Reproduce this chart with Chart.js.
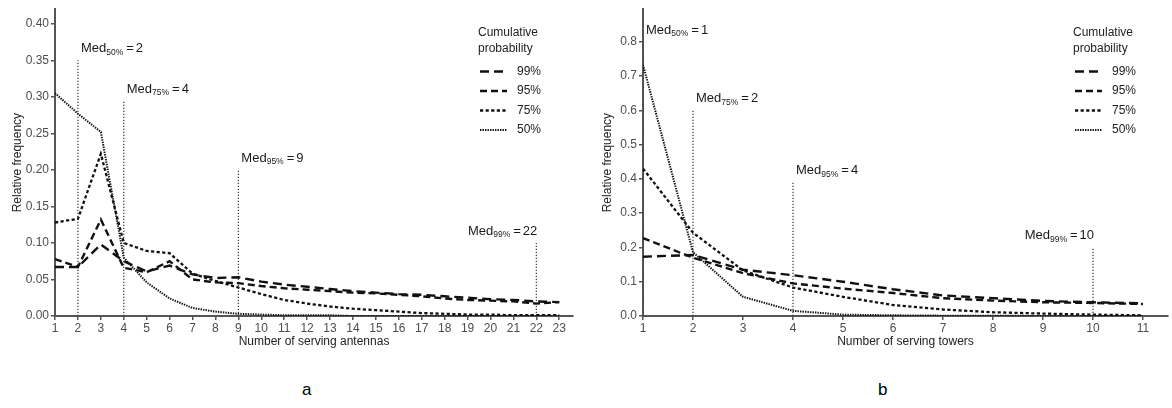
<!DOCTYPE html>
<html>
<head>
<meta charset="utf-8">
<script src="https://cdn.jsdelivr.net/npm/chart.js@4.4.1/dist/chart.umd.min.js"></script>
<style>
  body { margin: 0; background: #fff; width: 1172px; height: 408px; position: relative; overflow: hidden; font-family: "Liberation Sans", Arial, sans-serif; }
  canvas { position: absolute; top: 0; }
  #chart-a { left: 0; width: 590px; height: 360px; }
  #chart-b { left: 590px; width: 582px; height: 360px; }
  .panel { position: absolute; top: 380px; font-size: 17px; color: #000; }
</style>
</head>
<body>
<canvas id="chart-a" width="590" height="360"></canvas>
<canvas id="chart-b" width="582" height="360"></canvas>
<div class="panel" style="left:302px">a</div>
<div class="panel" style="left:878px">b</div>
<script>
// panel a: antennas
var antennas = [1, 2, 3, 4, 5, 6, 7, 8, 9, 10, 11, 12, 13, 14, 15, 16, 17, 18, 19, 20, 21, 22, 23];
var antennaYTicks = [0, 0.05, 0.10, 0.15, 0.20, 0.25, 0.30, 0.35, 0.40];
var antenna99 = [0.067, 0.067, 0.098, 0.075, 0.061, 0.069, 0.057, 0.052, 0.053, 0.047, 0.043, 0.040, 0.037, 0.034, 0.032, 0.030, 0.029, 0.027, 0.025, 0.023, 0.022, 0.020, 0.019];
var antenna95 = [0.078, 0.067, 0.132, 0.066, 0.060, 0.075, 0.050, 0.046, 0.045, 0.041, 0.038, 0.036, 0.034, 0.032, 0.031, 0.029, 0.027, 0.024, 0.022, 0.021, 0.020, 0.017, 0.019];
var antenna75 = [0.128, 0.133, 0.222, 0.100, 0.089, 0.086, 0.058, 0.048, 0.039, 0.030, 0.022, 0.017, 0.013, 0.010, 0.008, 0.006, 0.004, 0.003, 0.002, 0.002, 0.001, 0.001, 0.001];
var antenna50 = [0.305, 0.277, 0.252, 0.080, 0.046, 0.024, 0.011, 0.006, 0.003, 0.002, 0.001, 0.001, 0.001, 0, 0, 0, 0, 0, 0, 0, 0, 0, 0];
var antennaMedians = [2, 4, 9, 22];
var antennaMedianTops = [0.35, 0.295, 0.2, 0.1];

// panel b: towers
var towers = [1, 2, 3, 4, 5, 6, 7, 8, 9, 10, 11];
var towerYTicks = [0, 0.1, 0.2, 0.3, 0.4, 0.5, 0.6, 0.7, 0.8];
var tower99 = [0.173, 0.178, 0.135, 0.119, 0.100, 0.078, 0.060, 0.052, 0.044, 0.040, 0.037];
var tower95 = [0.227, 0.170, 0.125, 0.095, 0.080, 0.067, 0.052, 0.045, 0.040, 0.038, 0.035];
var tower75 = [0.430, 0.243, 0.133, 0.083, 0.056, 0.032, 0.019, 0.011, 0.007, 0.004, 0.002];
var tower50 = [0.733, 0.186, 0.056, 0.015, 0.004, 0.002, 0.001, 0.001, 0, 0, 0];
var towerMedians = [1, 2, 4, 10];
var towerMedianTops = [0.8, 0.6, 0.39, 0.2];

var levels = ["99%", "95%", "75%", "50%"];
var medianLevels = ["50%", "75%", "95%", "99%"];

var lineStyles = {
    "99%": { dash: [9, 5], width: 2.4 },
    "95%": { dash: [7, 4], width: 2.4 },
    "75%": { dash: [3.2, 2.4], width: 2.3 },
    "50%": { dash: [1.4, 1.1], width: 2 }
};

Chart.defaults.font.family = "'Liberation Sans', Arial, sans-serif";
Chart.defaults.animation = false;

function toPoints (xs, ys) {
    return xs.map(function (x, i) { return { x: x, y: ys[i] }; });
}

// legend in the upper right, drawn from the dataset styles
var cumLegend = {
    id: "cumLegend",
    afterDraw: function (chart) {
        let ctx = chart.ctx;
        let left = chart.chartArea.right - 95;
        ctx.save();
        ctx.fillStyle = "#222";
        ctx.font = "12px 'Liberation Sans', Arial, sans-serif";
        ctx.textBaseline = "middle";
        ctx.textAlign = "left";
        ctx.fillText("Cumulative", left, 33);
        ctx.fillText("probability", left, 49);
        let y = 71.5;
        chart.data.datasets.forEach(function (ds) {
            if (!ds.legendText) return;
            ctx.strokeStyle = ds.borderColor;
            ctx.lineWidth = ds.borderWidth;
            ctx.setLineDash(ds.borderDash);
            ctx.beginPath();
            ctx.moveTo(left + 2, y);
            ctx.lineTo(left + 29, y);
            ctx.stroke();
            ctx.fillText(ds.legendText, left + 39, y);
            y += 19.5;
        });
        ctx.restore();
    }
};

// "Med_xx% = n" captions above the median markers
var medianLabels = {
    id: "medianLabels",
    afterDatasetsDraw: function (chart) {
        let ctx = chart.ctx;
        let xs = chart.scales.x;
        let ys = chart.scales.y;
        ctx.save();
        ctx.fillStyle = "#1a1a1a";
        ctx.textBaseline = "alphabetic";
        ctx.textAlign = "left";
        chart.data.datasets.forEach(function (ds) {
            if (!ds.medLabel) return;
            let top = ds.data[1];
            let px = xs.getPixelForValue(top.x);
            let base = ys.getPixelForValue(top.y) - 8;
            let big = "13px 'Liberation Sans', Arial, sans-serif";
            let small = "8.5px 'Liberation Sans', Arial, sans-serif";
            let value = String(top.x);
            ctx.font = big;
            let wMed = ctx.measureText("Med").width;
            let wEq = ctx.measureText("=").width;
            let wVal = ctx.measureText(value).width;
            ctx.font = small;
            let wSub = ctx.measureText(ds.medLabel).width;
            let total = wMed + wSub + 3 + wEq + 2 + wVal;
            let x = ds.medRight ? px + 1 - total : px + 3;
            ctx.font = big;
            ctx.fillText("Med", x, base);
            x += wMed;
            ctx.font = small;
            ctx.fillText(ds.medLabel, x, base + 2.5);
            x += wSub + 3;
            ctx.font = big;
            ctx.fillText("=", x, base);
            x += wEq + 2;
            ctx.fillText(value, x, base);
        });
        ctx.restore();
    }
};

function buildChart (canvasId, cfg) {
    let datasets = [];
    cfg.series.forEach(function (values, i) {
        let style = lineStyles[levels[i]];
        datasets.push({
            data: toPoints(cfg.xs, values),
            legendText: levels[i],
            borderColor: "#111",
            borderWidth: style.width,
            borderDash: style.dash,
            borderCapStyle: "butt",
            pointRadius: 0,
            tension: 0,
            fill: false
        });
    });
    cfg.medians.forEach(function (m, i) {
        datasets.push({
            data: [{ x: m, y: 0 }, { x: m, y: cfg.medianTops[i] }],
            medLabel: medianLevels[i],
            medRight: i == cfg.medians.length - 1,
            borderColor: "#333",
            borderWidth: 1.2,
            borderDash: [1.2, 1.8],
            pointRadius: 0,
            fill: false
        });
    });

    let tickFont = { size: 12 };
    return new Chart(document.getElementById(canvasId), {
        type: "line",
        data: { datasets: datasets },
        plugins: [medianLabels, cumLegend],
        options: {
            responsive: false,
            animation: false,
            layout: { padding: { top: 5, right: cfg.padRight, left: 0, bottom: 0 } },
            plugins: { legend: { display: false }, tooltip: { enabled: false } },
            scales: {
                x: {
                    type: "linear",
                    min: cfg.xs[0],
                    max: cfg.xMax,
                    afterBuildTicks: function (scale) {
                        scale.ticks = cfg.xs.map(function (v) { return { value: v }; });
                    },
                    afterFit: function (scale) { scale.height = 44; },
                    ticks: { color: "#4d4d4d", font: tickFont, padding: 1, maxRotation: 0, autoSkip: false },
                    grid: { drawOnChartArea: false, drawTicks: true, tickLength: 4, color: "#555", lineWidth: 1.5 },
                    border: { display: true, color: "#555", width: 2 },
                    title: { display: true, text: cfg.xTitle, color: "#222", font: { size: 12 }, padding: { top: 0, bottom: 11 } }
                },
                y: {
                    min: 0,
                    max: cfg.yMax,
                    afterBuildTicks: function (scale) {
                        scale.ticks = cfg.yTicks.map(function (v) { return { value: v }; });
                    },
                    afterFit: function (scale) { scale.width = cfg.yWidth; },
                    ticks: {
                        color: "#4d4d4d",
                        font: tickFont,
                        padding: 2,
                        callback: function (v) { return v.toFixed(cfg.yDigits); }
                    },
                    grid: { drawOnChartArea: false, drawTicks: true, tickLength: 4, color: "#555", lineWidth: 1.5 },
                    border: { display: true, color: "#555", width: 2 },
                    title: { display: true, text: "Relative frequency", color: "#222", font: { size: 12 }, padding: { top: 10, bottom: 0 } }
                }
            }
        }
    });
}

buildChart("chart-a", {
    xs: antennas,
    xMax: 23.6,
    yMax: 0.42,
    yTicks: antennaYTicks,
    yDigits: 2,
    yWidth: 55,
    padRight: 17,
    xTitle: "Number of serving antennas",
    series: [antenna99, antenna95, antenna75, antenna50],
    medians: antennaMedians,
    medianTops: antennaMedianTops
});

buildChart("chart-b", {
    xs: towers,
    xMax: 11.5,
    yMax: 0.895,
    yTicks: towerYTicks,
    yDigits: 1,
    yWidth: 53,
    padRight: 4,
    xTitle: "Number of serving towers",
    series: [tower99, tower95, tower75, tower50],
    medians: towerMedians,
    medianTops: towerMedianTops
});
</script>
</body>
</html>
